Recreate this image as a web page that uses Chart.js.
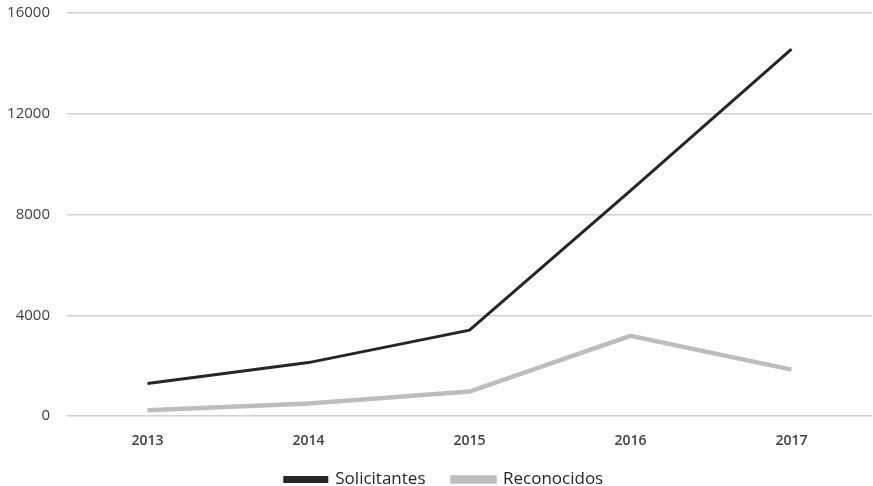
<!DOCTYPE html>
<html>
<head>
<meta charset="utf-8">
<script src="https://cdn.jsdelivr.net/npm/chart.js@4.4.0/dist/chart.umd.min.js"></script>
<style>
  html, body { margin: 0; padding: 0; background: #fff; }
  #wrap { width: 873px; height: 486px; }
</style>
</head>
<body>
<div id="wrap"><canvas id="chart" width="873" height="486"></canvas></div>
<script>
  const years = ['2013', '2014', '2015', '2016', '2017'];
  const solicitantes = [1290, 2120, 3410, 8950, 14570];
  const reconocidos = [230, 500, 970, 3180, 1840];
  const yTicks = [0, 4000, 8000, 12000, 16000];

  // small nudge so the legend lands where the original has it
  const legendNudge = {
    id: 'legendNudge',
    afterLayout(chart) {
      const lg = chart.legend;
      lg.top -= 6; lg.bottom -= 6;
      lg.left += 8; lg.right += 8;
    }
  };

  new Chart(document.getElementById('chart'), {
    type: 'line',
    data: {
      labels: years,
      datasets: [
        {
          label: 'Solicitantes',
          data: solicitantes,
          borderColor: '#262626',
          backgroundColor: '#262626',
          borderWidth: 3,
          pointRadius: 0,
          tension: 0
        },
        {
          label: 'Reconocidos',
          data: reconocidos,
          borderColor: '#bdbdbd',
          backgroundColor: '#bdbdbd',
          borderWidth: 4.5,
          pointRadius: 0,
          tension: 0
        }
      ]
    },
    plugins: [legendNudge],
    options: {
      responsive: false,
      animation: false,
      layout: { padding: { top: 13, right: 1, bottom: -18, left: 0 } },
      plugins: {
        legend: {
          position: 'bottom',
          labels: {
            boxWidth: 42,
            boxHeight: 4,
            padding: 27,
            color: '#262626',
            font: { family: '"Open Sans", sans-serif', size: 17 }
          }
        },
        tooltip: { enabled: false }
      },
      scales: {
        x: {
          offset: true,
          grid: { display: false, drawTicks: false },
          border: { display: false },
          ticks: {
            autoSkip: false,
            maxRotation: 0,
            color: '#404040',
            font: { family: '"Open Sans", sans-serif', size: 14, weight: '600' },
            padding: 17
          },
          afterFit: (axis) => { axis.height = 34; }
        },
        y: {
          min: 0,
          max: 16000,
          afterBuildTicks: (axis) => { axis.ticks = yTicks.map((v) => ({ value: v })); },
          grid: { color: '#d0d0d0', lineWidth: 1.5, drawTicks: false },
          border: { display: false },
          ticks: {
            color: '#404040',
            font: { family: '"Open Sans", sans-serif', size: 15 },
            padding: 17,
            callback: (v) => String(v)
          },
          afterFit: (axis) => {
            axis.width = 67;
            axis.paddingTop = 0;
            axis.paddingBottom = 0;
          }
        }
      }
    }
  });
</script>
</body>
</html>
